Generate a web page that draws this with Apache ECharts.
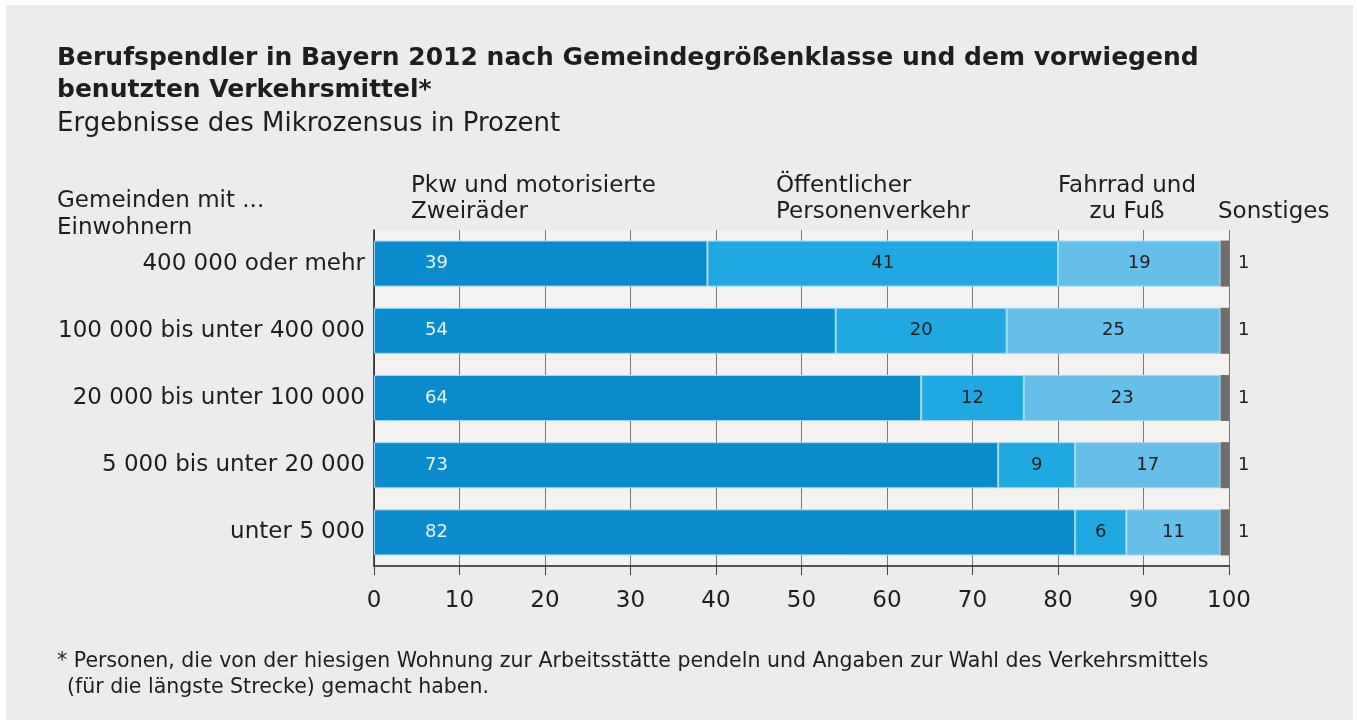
<!DOCTYPE html>
<html>
<head>
<meta charset="utf-8">
<script src="https://cdn.jsdelivr.net/npm/echarts@6/dist/echarts.min.js"></script>
<style>
  html, body { margin: 0; padding: 0; background: #ffffff; }
  #chart { width: 1357px; height: 725px; }
</style>
</head>
<body>
<div id="chart"></div>
<script>
// Community size classes (top to bottom)
const categories = [
  '400 000 oder mehr',
  '100 000 bis unter 400 000',
  '20 000 bis unter 100 000',
  '5 000 bis unter 20 000',
  'unter 5 000'
];

// Share of commuters by main means of transport, in percent
const pkw = [39, 54, 64, 73, 82];
const oepnv = [41, 20, 12, 9, 6];
const rad = [19, 25, 23, 17, 11];
const sonst = [1, 1, 1, 1, 1];

const xTicks = [0, 10, 20, 30, 40, 50, 60, 70, 80, 90, 100];

const FONT = '"DejaVu Sans", "Liberation Sans", Arial, sans-serif';
const TXT = '#1e1e1e';

const chart = echarts.init(document.getElementById('chart'), null, { renderer: 'canvas' });

const segBorder = { borderColor: '#9ad9f2', borderWidth: 1 };

function txt(x, y, text, size, opts) {
  opts = opts || {};
  return {
    type: 'text',
    x: x, y: y, z: 10,
    style: {
      text: text,
      fill: TXT,
      font: (opts.bold ? 'bold ' : '') + size + 'px ' + FONT,
      textVerticalAlign: 'middle',
      textAlign: opts.align || 'left'
    }
  };
}

const option = {
  backgroundColor: '#ffffff',
  animation: false,
  textStyle: { fontFamily: FONT },
  grid: {
    left: 374, right: 1357 - 1229, top: 230, bottom: 725 - 566,
    show: true, backgroundColor: '#f4f1f1', borderWidth: 0
  },
  xAxis: {
    type: 'value',
    min: 0, max: 100, interval: 10,
    axisLine: { show: true, lineStyle: { color: '#222', width: 1.5 } },
    axisTick: { show: true, length: 9, lineStyle: { color: '#444', width: 1 } },
    splitLine: { show: true, lineStyle: { color: '#7a7a7a', width: 1 } },
    axisLabel: {
      color: TXT, fontSize: 23, fontFamily: FONT, margin: 24,
      formatter: v => xTicks.includes(v) ? String(v) : ''
    }
  },
  yAxis: {
    type: 'category',
    data: categories,
    inverse: true,
    axisLine: { show: true, onZero: false, lineStyle: { color: '#222', width: 1.5 } },
    axisTick: { show: false },
    axisLabel: { color: TXT, fontSize: 23, fontFamily: FONT, margin: 9 }
  },
  graphic: [
    { type: 'rect', z: -10, shape: { x: 6, y: 5, width: 1347, height: 715 }, style: { fill: '#ececec' } },
    txt(57, 58, 'Berufspendler in Bayern 2012 nach Gemeindegrößenklasse und dem vorwiegend', 25, { bold: true }),
    txt(57, 90, 'benutzten Verkehrsmittel*', 25, { bold: true }),
    txt(57, 124, 'Ergebnisse des Mikrozensus in Prozent', 26),
    txt(57, 201, 'Gemeinden mit ...', 23),
    txt(57, 228, 'Einwohnern', 23),
    txt(411, 186, 'Pkw und motorisierte', 23),
    txt(411, 212, 'Zweiräder', 23),
    txt(776, 186, 'Öffentlicher', 23),
    txt(776, 212, 'Personenverkehr', 23),
    txt(1127, 186, 'Fahrrad und', 23, { align: 'center' }),
    txt(1127, 212, 'zu Fuß', 23, { align: 'center' }),
    txt(1218, 212, 'Sonstiges', 23),
    txt(57, 662, '* Personen, die von der hiesigen Wohnung zur Arbeitsstätte pendeln und Angaben zur Wahl des Verkehrsmittels', 20.5),
    txt(67, 688, '(für die längste Strecke) gemacht haben.', 20.5)
  ],
  series: [
    {
      name: 'Pkw und motorisierte Zweiräder',
      type: 'bar', stack: 'total', barWidth: 46,
      data: pkw,
      itemStyle: Object.assign({ color: '#0a8bcd' }, segBorder),
      label: {
        show: true, position: 'insideLeft', distance: 51,
        color: '#e6f7ff', fontSize: 18, fontFamily: FONT
      }
    },
    {
      name: 'Öffentlicher Personenverkehr',
      type: 'bar', stack: 'total', barWidth: 46,
      data: oepnv,
      itemStyle: Object.assign({ color: '#1fa8e1' }, segBorder),
      label: { show: true, position: 'inside', color: TXT, fontSize: 18, fontFamily: FONT }
    },
    {
      name: 'Fahrrad und zu Fuß',
      type: 'bar', stack: 'total', barWidth: 46,
      data: rad,
      itemStyle: Object.assign({ color: '#66bfe9' }, segBorder),
      label: { show: true, position: 'inside', color: TXT, fontSize: 18, fontFamily: FONT }
    },
    {
      name: 'Sonstiges',
      type: 'bar', stack: 'total', barWidth: 46,
      data: sonst,
      itemStyle: { color: '#6e6e6e', borderWidth: 0 },
      label: { show: true, position: 'right', distance: 9, color: TXT, fontSize: 18, fontFamily: FONT }
    }
  ]
};

chart.setOption(option);
</script>
</body>
</html>
